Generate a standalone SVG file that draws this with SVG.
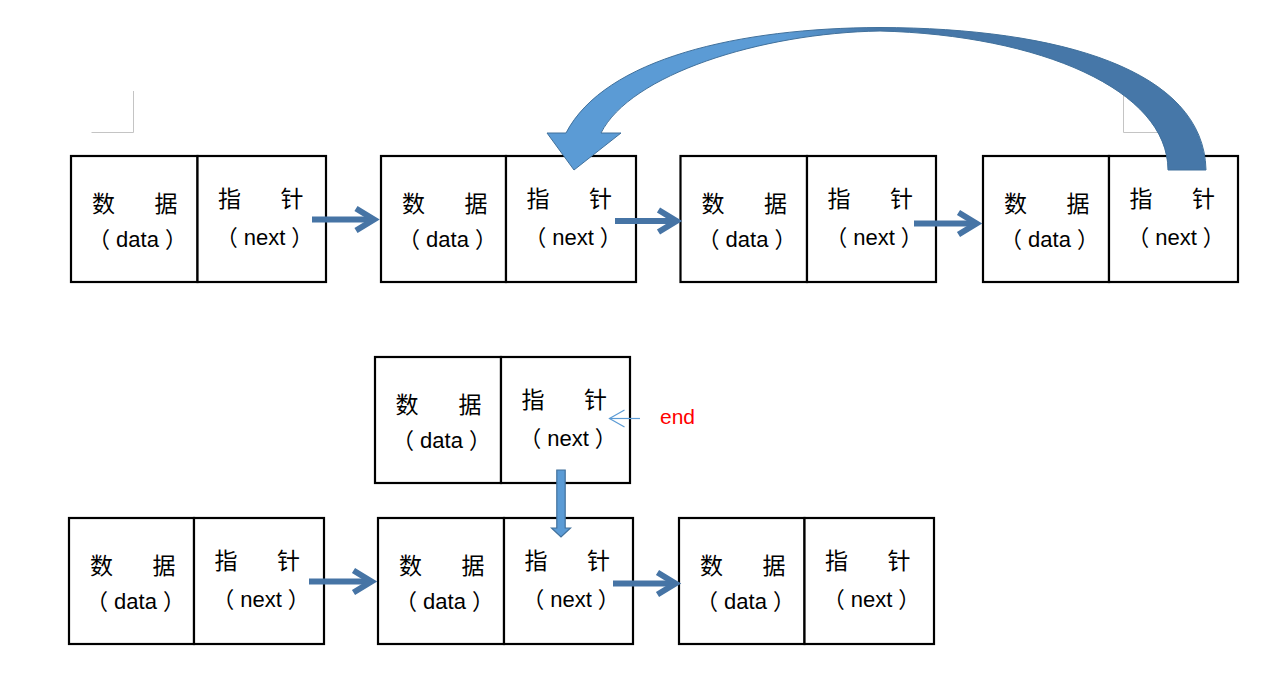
<svg xmlns="http://www.w3.org/2000/svg" width="1277" height="677" viewBox="0 0 1277 677">
<style>
.box{fill:#fff;stroke:#000;stroke-width:2.2}
.cjk{font-family:"Noto Sans CJK SC",sans-serif;font-size:23px;text-anchor:middle;fill:#000}
.lat{font-family:"Liberation Sans","Noto Sans CJK SC",sans-serif;font-size:22px;text-anchor:middle;fill:#000}
.conn{fill:none;stroke:#4674a5;stroke-width:6;marker-end:url(#head)}
.crop{fill:none;stroke:#c4c4c4;stroke-width:1}
</style>
<defs>
<marker id="head" markerUnits="userSpaceOnUse" viewBox="-25 -15 32 30" refX="0" refY="0" markerWidth="32" markerHeight="30" orient="auto" overflow="visible">
<path d="M-18,-11 L0,0 L-18,11" fill="none" stroke="#4674a5" stroke-width="6" stroke-linejoin="miter"/>
</marker>
<marker id="thin" markerUnits="userSpaceOnUse" viewBox="-20 -10 22 20" refX="0" refY="0" markerWidth="22" markerHeight="20" orient="auto" overflow="visible">
<path d="M-15,-8.5 L0,0 L-15,8.5" fill="none" stroke="#5b9bd5" stroke-width="1.2"/>
</marker>
<linearGradient id="curveFill" gradientUnits="userSpaceOnUse" x1="547" y1="0" x2="1206" y2="0">
<stop offset="0" stop-color="#5b9bd5"/>
<stop offset="0.36" stop-color="#5b9bd5"/>
<stop offset="0.5" stop-color="#4677a8"/>
<stop offset="1" stop-color="#4677a8"/>
</linearGradient>
</defs>

<g id="crop-marks">
<path class="crop" d="M91.5,132.5 H133.5 V91"/>
<path class="crop" d="M1165,132.5 H1123.5 V91"/>
</g>

<g id="node-t1">
<rect class="box" x="71" y="156" width="126.5" height="126"/>
<rect class="box" x="197.5" y="156" width="128.5" height="126"/>
<text class="cjk" y="211.5"><tspan x="103.5">数</tspan><tspan x="166">据</tspan></text>
<text class="lat" x="137.5" y="246.5">（<tspan dx="6">data</tspan><tspan dx="6">）</tspan></text>
<text class="cjk" y="206.5"><tspan x="229.5">指</tspan><tspan x="292">针</tspan></text>
<text class="lat" x="264.5" y="245">（<tspan dx="6">next</tspan><tspan dx="6">）</tspan></text>
</g>
<g id="node-t2">
<rect class="box" x="381" y="156" width="125" height="126"/>
<rect class="box" x="506" y="156" width="130" height="126"/>
<text class="cjk" y="211.5"><tspan x="413.5">数</tspan><tspan x="476">据</tspan></text>
<text class="lat" x="447.5" y="246.5">（<tspan dx="6">data</tspan><tspan dx="6">）</tspan></text>
<text class="cjk" y="206.5"><tspan x="538">指</tspan><tspan x="600.5">针</tspan></text>
<text class="lat" x="573" y="245">（<tspan dx="6">next</tspan><tspan dx="6">）</tspan></text>
</g>
<g id="node-t3">
<rect class="box" x="680.5" y="156" width="126.5" height="126"/>
<rect class="box" x="807" y="156" width="129" height="126"/>
<text class="cjk" y="211.5"><tspan x="713">数</tspan><tspan x="775.5">据</tspan></text>
<text class="lat" x="747" y="246.5">（<tspan dx="6">data</tspan><tspan dx="6">）</tspan></text>
<text class="cjk" y="206.5"><tspan x="839">指</tspan><tspan x="901.5">针</tspan></text>
<text class="lat" x="874" y="245">（<tspan dx="6">next</tspan><tspan dx="6">）</tspan></text>
</g>
<g id="node-t4">
<rect class="box" x="983" y="156" width="126" height="126"/>
<rect class="box" x="1109" y="156" width="129" height="126"/>
<text class="cjk" y="211.5"><tspan x="1015.5">数</tspan><tspan x="1078">据</tspan></text>
<text class="lat" x="1049.5" y="246.5">（<tspan dx="6">data</tspan><tspan dx="6">）</tspan></text>
<text class="cjk" y="206.5"><tspan x="1141">指</tspan><tspan x="1203.5">针</tspan></text>
<text class="lat" x="1176" y="245">（<tspan dx="6">next</tspan><tspan dx="6">）</tspan></text>
</g>

<g id="node-end">
<rect class="box" x="375" y="357" width="126" height="126"/>
<rect class="box" x="501" y="357" width="129" height="126"/>
<text class="cjk" y="412.5"><tspan x="407">数</tspan><tspan x="470">据</tspan></text>
<text class="lat" x="441.5" y="447.5">（<tspan dx="6">data</tspan><tspan dx="6">）</tspan></text>
<text class="cjk" y="407.5"><tspan x="533">指</tspan><tspan x="595.5">针</tspan></text>
<text class="lat" x="568" y="446">（<tspan dx="6">next</tspan><tspan dx="6">）</tspan></text>
</g>

<g id="node-b1">
<rect class="box" x="69" y="518" width="125" height="126"/>
<rect class="box" x="194" y="518" width="130" height="126"/>
<text class="cjk" y="573.5"><tspan x="101.5">数</tspan><tspan x="164">据</tspan></text>
<text class="lat" x="135.5" y="608.5">（<tspan dx="6">data</tspan><tspan dx="6">）</tspan></text>
<text class="cjk" y="568.5"><tspan x="226">指</tspan><tspan x="288.5">针</tspan></text>
<text class="lat" x="261" y="607">（<tspan dx="6">next</tspan><tspan dx="6">）</tspan></text>
</g>
<g id="node-b2">
<rect class="box" x="378" y="518" width="126" height="126"/>
<rect class="box" x="504" y="518" width="129" height="126"/>
<text class="cjk" y="573.5"><tspan x="410.5">数</tspan><tspan x="473">据</tspan></text>
<text class="lat" x="444.5" y="608.5">（<tspan dx="6">data</tspan><tspan dx="6">）</tspan></text>
<text class="cjk" y="568.5"><tspan x="536">指</tspan><tspan x="598.5">针</tspan></text>
<text class="lat" x="571" y="607">（<tspan dx="6">next</tspan><tspan dx="6">）</tspan></text>
</g>
<g id="node-b3">
<rect class="box" x="679" y="518" width="125.5" height="126"/>
<rect class="box" x="804.5" y="518" width="129.5" height="126"/>
<text class="cjk" y="573.5"><tspan x="711.5">数</tspan><tspan x="774">据</tspan></text>
<text class="lat" x="745.5" y="608.5">（<tspan dx="6">data</tspan><tspan dx="6">）</tspan></text>
<text class="cjk" y="568.5"><tspan x="836.5">指</tspan><tspan x="899">针</tspan></text>
<text class="lat" x="871.5" y="607">（<tspan dx="6">next</tspan><tspan dx="6">）</tspan></text>
</g>

<g id="connectors">
<path class="conn" d="M312,219.5 H374"/>
<path class="conn" d="M615,221 H676.5"/>
<path class="conn" d="M914,223.5 H976.5"/>
<path class="conn" d="M309,581.5 H371.5"/>
<path class="conn" d="M613,583.5 H675.5"/>
<path d="M640,418.5 H609.5" fill="none" stroke="#5b9bd5" stroke-width="1.2" marker-end="url(#thin)"/>
<path d="M556.8,470 H565.2 V528 H570.5 L561,537 L551.5,528 H556.8 Z" fill="#5b9bd5" stroke="#41719c" stroke-width="1.2"/>
<path d="M1206,170 C1204,70 1060,28 880,27.5 C740,28 605,58 566,133 L547,133 L574,170 L621,133 L601,133 C630,75 760,33 880,31 C1040,35 1168,90 1168,170 Z" fill="url(#curveFill)" stroke="#41719c" stroke-width="1"/>
</g>

<text x="660" y="423.5" font-family="Liberation Sans, sans-serif" font-size="21" fill="#ff0000">end</text>
</svg>
